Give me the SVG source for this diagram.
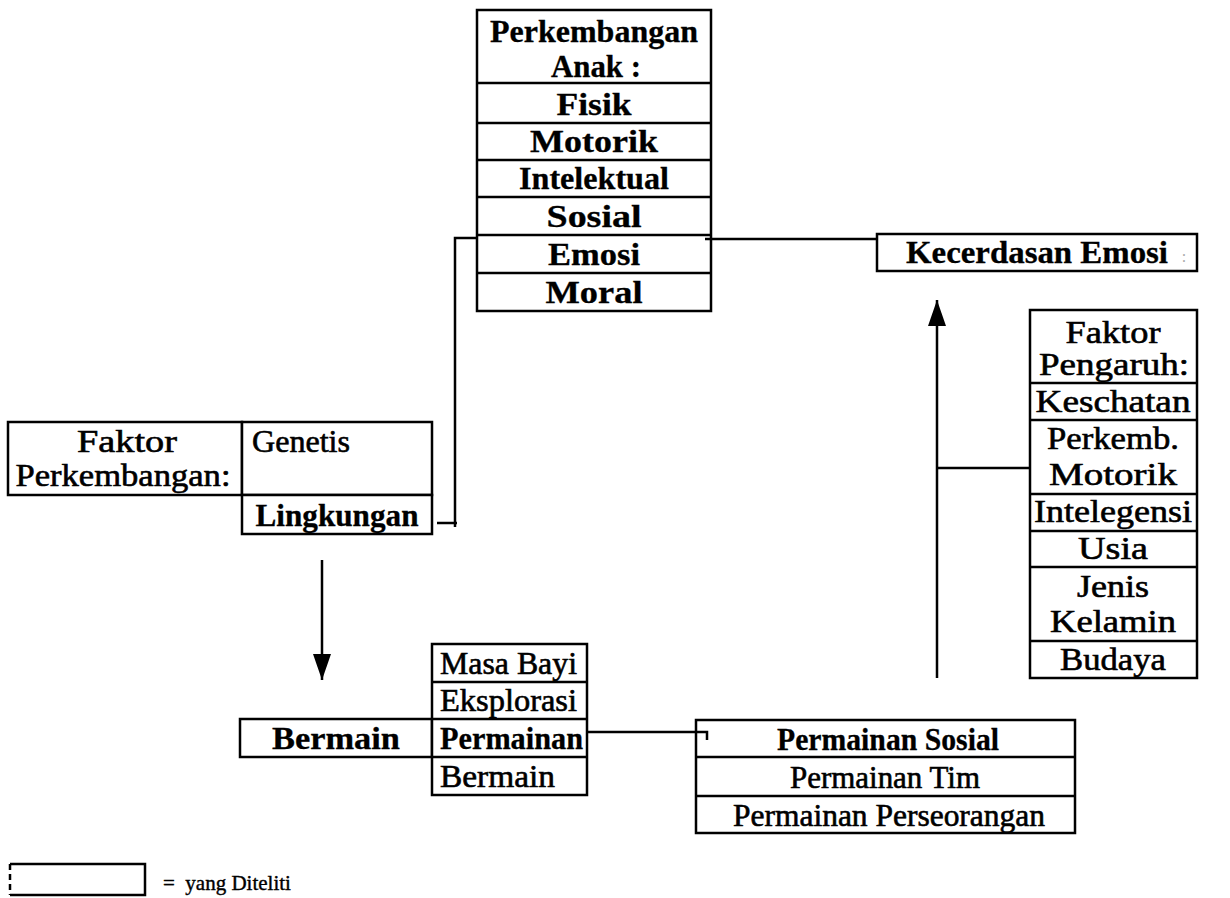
<svg xmlns="http://www.w3.org/2000/svg" width="1230" height="898" viewBox="0 0 1230 898">
<style>
.bx{fill:#fff;stroke:#000;stroke-width:2.5}
.ln{fill:none;stroke:#000;stroke-width:2.5}
.t{font-family:"Liberation Serif","Times New Roman",serif;font-size:31px;text-anchor:middle;fill:#000;stroke:#000;stroke-width:0.6}
.b{font-weight:bold;stroke-width:0.3}
.l{text-anchor:start}
</style>
<defs>
<marker id="ah" viewBox="0 0 26 18" refX="26" refY="9" markerWidth="26" markerHeight="18" markerUnits="userSpaceOnUse" orient="auto">
<path d="M0,0 L26,9 L0,18 Z" fill="#000"/>
</marker>
</defs>
<rect width="1230" height="898" fill="#fff"/>

<g id="perkembangan-anak">
<rect class="bx" x="477" y="10" width="234" height="301"/>
<path class="ln" d="M477,83H711M477,123H711M477,160H711M477,197H711M477,235H711M477,273H711"/>
<text class="t b" x="594" y="42" textLength="208" lengthAdjust="spacingAndGlyphs">Perkembangan</text>
<text class="t b" x="596" y="77" textLength="90" lengthAdjust="spacingAndGlyphs">Anak :</text>
<text class="t b" x="594" y="115" textLength="75" lengthAdjust="spacingAndGlyphs">Fisik</text>
<text class="t b" x="594" y="152" textLength="128" lengthAdjust="spacingAndGlyphs">Motorik</text>
<text class="t b" x="594" y="189" textLength="150" lengthAdjust="spacingAndGlyphs">Intelektual</text>
<text class="t b" x="594" y="227" textLength="95" lengthAdjust="spacingAndGlyphs">Sosial</text>
<text class="t b" x="594" y="265" textLength="92" lengthAdjust="spacingAndGlyphs">Emosi</text>
<text class="t b" x="594" y="303" textLength="97" lengthAdjust="spacingAndGlyphs">Moral</text>
</g>

<g id="kecerdasan-emosi">
<rect class="bx" x="877" y="234" width="320" height="37"/>
<text class="t b" x="1037" y="263" textLength="262" lengthAdjust="spacingAndGlyphs">Kecerdasan Emosi</text>
<text class="t" x="1184" y="262" style="font-size:16px;fill:#aaa;stroke:none">:</text>
</g>

<g id="faktor-pengaruh">
<rect class="bx" x="1030" y="310" width="167" height="368"/>
<path class="ln" d="M1030,383H1197M1030,420H1197M1030,494H1197M1030,531H1197M1030,567H1197M1030,641H1197"/>
<text class="t" x="1113" y="343" textLength="95" lengthAdjust="spacingAndGlyphs">Faktor</text>
<text class="t" x="1114" y="375" textLength="150" lengthAdjust="spacingAndGlyphs">Pengaruh:</text>
<text class="t" x="1113" y="412" textLength="155" lengthAdjust="spacingAndGlyphs">Keschatan</text>
<text class="t" x="1113" y="449" textLength="132" lengthAdjust="spacingAndGlyphs">Perkemb.</text>
<text class="t" x="1113" y="485" textLength="128" lengthAdjust="spacingAndGlyphs">Motorik</text>
<text class="t" x="1113" y="522" textLength="158" lengthAdjust="spacingAndGlyphs">Intelegensi</text>
<text class="t" x="1113" y="559" textLength="70" lengthAdjust="spacingAndGlyphs">Usia</text>
<text class="t" x="1113" y="597" textLength="72" lengthAdjust="spacingAndGlyphs">Jenis</text>
<text class="t" x="1113" y="632" textLength="126" lengthAdjust="spacingAndGlyphs">Kelamin</text>
<text class="t" x="1113" y="670" textLength="106" lengthAdjust="spacingAndGlyphs">Budaya</text>
</g>

<g id="faktor-perkembangan">
<rect class="bx" x="8" y="422" width="234" height="73"/>
<rect class="bx" x="242" y="422" width="190" height="73"/>
<rect class="bx" x="242" y="495" width="190" height="39"/>
<text class="t" x="127" y="452" textLength="100" lengthAdjust="spacingAndGlyphs">Faktor</text>
<text class="t" x="123" y="486" textLength="215" lengthAdjust="spacingAndGlyphs">Perkembangan:</text>
<text class="t l" x="252" y="452" textLength="98" lengthAdjust="spacingAndGlyphs">Genetis</text>
<text class="t b" x="337" y="526" textLength="163" lengthAdjust="spacingAndGlyphs">Lingkungan</text>
</g>

<g id="bermain">
<rect class="bx" x="240" y="719" width="192" height="38"/>
<text class="t b" x="336" y="749" textLength="128" lengthAdjust="spacingAndGlyphs">Bermain</text>
</g>

<g id="tahap-bermain">
<rect class="bx" x="432" y="644" width="155" height="151"/>
<path class="ln" d="M432,682H587M432,719H587M432,757H587"/>
<text class="t l" x="440" y="674" textLength="137" lengthAdjust="spacingAndGlyphs">Masa Bayi</text>
<text class="t l" x="440" y="711" textLength="137" lengthAdjust="spacingAndGlyphs">Eksplorasi</text>
<text class="t l b" x="440" y="749" textLength="143" lengthAdjust="spacingAndGlyphs">Permainan</text>
<text class="t l" x="440" y="787" textLength="115" lengthAdjust="spacingAndGlyphs">Bermain</text>
</g>

<g id="permainan-sosial">
<rect class="bx" x="696" y="720" width="379" height="113"/>
<path class="ln" d="M696,757H1075M696,796H1075"/>
<text class="t b" x="888" y="750" textLength="222" lengthAdjust="spacingAndGlyphs">Permainan Sosial</text>
<text class="t" x="885" y="788" textLength="190" lengthAdjust="spacingAndGlyphs">Permainan Tim</text>
<text class="t" x="889" y="826" textLength="312" lengthAdjust="spacingAndGlyphs">Permainan Perseorangan</text>
</g>

<g id="legend">
<path class="ln" d="M10,864H145V895H10"/>
<path class="ln" d="M10,864V895" stroke-dasharray="6,4"/>
<text class="t l" x="163" y="890" style="font-size:21px;stroke-width:0.4">=&#160; yang Diteliti</text>
</g>

<g id="connectors">
<path class="ln" d="M478,238H455V527M437,523H457"/>
<path class="ln" d="M705,239H877"/>
<path class="ln" d="M937,678V300" marker-end="url(#ah)"/>
<path class="ln" d="M937,468H1030"/>
<path class="ln" d="M322,560V680" marker-end="url(#ah)"/>
<path class="ln" d="M587,732H707V740"/>
</g>
</svg>
